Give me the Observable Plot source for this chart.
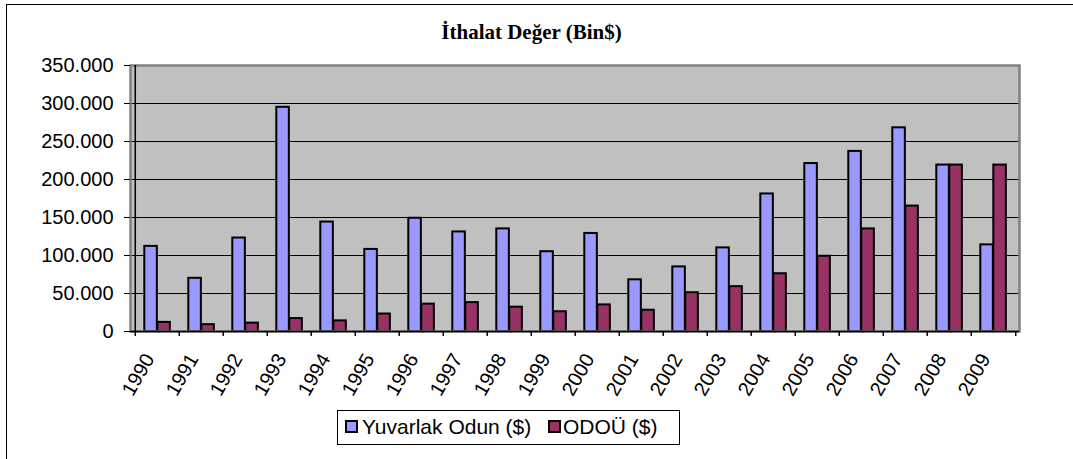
<!DOCTYPE html>
<html>
<head>
<meta charset="utf-8">
<script src="https://cdn.jsdelivr.net/npm/d3@7"></script>
<script src="https://cdn.jsdelivr.net/npm/@observablehq/plot@0.6"></script>
<style>
  html, body { margin: 0; padding: 0; background: #fff; }
  #wrap { position: relative; width: 1073px; height: 459px; overflow: hidden; }
  #border { position: absolute; left: 6px; top: 4px; width: 1200px; height: 600px; border: 1px solid #000; box-sizing: border-box; }
  #title { position: absolute; left: 0; width: 1063px; top: 22px; line-height: 21px; text-align: center;
           font-family: "Liberation Serif", "Times New Roman", serif; font-weight: bold; font-size: 21px; color: #000; }
  #chart { position: absolute; left: 0; top: 0; }
  #legend { position: absolute; left: 337px; top: 410px; width: 343px; height: 35px; border: 1px solid #000;
            box-sizing: border-box; background: #fff; font-family: "Liberation Sans", Arial, sans-serif; font-size: 21px; color: #000; }
  #legend .sw { position: absolute; top: 9px; width: 9px; height: 9px; border: 2px solid #000; }
  #legend .tx { position: absolute; top: 4px; line-height: 24px; white-space: nowrap; }
</style>
</head>
<body>
<div id="wrap">
  <div id="border"></div>
  <div id="title"></div>
  <div id="chart"></div>
  <div id="legend"></div>
</div>
<script>
// ---- data ----
const titleText = "İthalat Değer (Bin$)";
const years = ["1990","1991","1992","1993","1994","1995","1996","1997","1998","1999",
               "2000","2001","2002","2003","2004","2005","2006","2007","2008","2009"];
const seriesNames = ["Yuvarlak Odun ($)", "ODOÜ ($)"];
const seriesColors = ["#9999ff", "#993366"];
const yuvarlakOdun = [112000, 70000, 123000, 295000, 144000, 108000, 149000, 131000, 135000, 105000,
                      129000, 68000, 85000, 110000, 181000, 221000, 237000, 268000, 219000, 114000];
const odou = [12000, 9000, 11000, 17000, 14000, 23000, 36000, 38000, 32000, 26000,
              35000, 28000, 51000, 59000, 76000, 99000, 135000, 165000, 219000, 219000];
const yTicks = [0, 50000, 100000, 150000, 200000, 250000, 300000, 350000];

// ---- build ----
document.getElementById("title").textContent = titleText;

const W = 1073, H = 400;
const mL = 130, mR = 54, mT = 65, mB = 69;
const plotW = W - mL - mR, plotH = H - mT - mB;
const bw = plotW / years.length;

const dataA = years.map((y, i) => ({year: y, value: yuvarlakOdun[i]}));
const dataB = years.map((y, i) => ({year: y, value: odou[i]}));
const fmt = d => d3.format(",")(d).replace(/,/g, ".");

const chart = Plot.plot({
  width: W, height: H,
  marginLeft: mL, marginRight: mR, marginTop: mT, marginBottom: mB,
  style: {fontFamily: "'Liberation Sans', Arial, sans-serif", fontSize: "20px", background: "transparent", color: "#000"},
  x: {type: "band", domain: years, padding: 0},
  y: {domain: [0, 350000]},
  marks: [
    Plot.frame({fill: "#c0c0c0", stroke: "none"}),
    Plot.ruleY(yTicks.filter(d => d > 0 && d < 350000), {stroke: "#000", strokeWidth: 1}),
    Plot.barY(dataA, {x: "year", y: "value", fill: seriesColors[0], stroke: "#000", strokeWidth: 2,
                      insetLeft: 9.3, insetRight: bw - 22.3}),
    Plot.barY(dataB, {x: "year", y: "value", fill: seriesColors[1], stroke: "#000", strokeWidth: 2,
                      insetLeft: 22.3, insetRight: bw - 35.3}),
    Plot.frame({stroke: "#808080", strokeWidth: 2.5}),
    Plot.ruleY([0], {stroke: "#000", strokeWidth: 1.5}),
    Plot.ruleX([years[0]], {x: d => d, dx: -bw / 2, stroke: "#000", strokeWidth: 1.5}),
    Plot.ruleX(years, {x: d => d, dx: -bw / 2, insetTop: plotH, insetBottom: -5, stroke: "#000", strokeWidth: 1.5}),
    Plot.ruleX([years[years.length - 1]], {x: d => d, dx: bw / 2, insetTop: plotH, insetBottom: -5, stroke: "#000", strokeWidth: 1.5}),
    Plot.axisY({ticks: yTicks, tickFormat: fmt, tickSize: 6, tickPadding: 11, label: null, fontSize: 20}),
    Plot.axisX({tickSize: 0, tickRotate: -60, tickPadding: 24, dx: -8, label: null, fontSize: 20})
  ]
});
document.getElementById("chart").appendChild(chart);

// legend
const legend = document.getElementById("legend");
const swLeft = [7, 210], txLeft = [24, 225];
seriesNames.forEach((name, i) => {
  const sw = document.createElement("div");
  sw.className = "sw";
  sw.style.left = swLeft[i] + "px";
  sw.style.background = seriesColors[i];
  legend.appendChild(sw);
  const tx = document.createElement("div");
  tx.className = "tx";
  tx.style.left = txLeft[i] + "px";
  tx.textContent = name;
  legend.appendChild(tx);
});
</script>
</body>
</html>
